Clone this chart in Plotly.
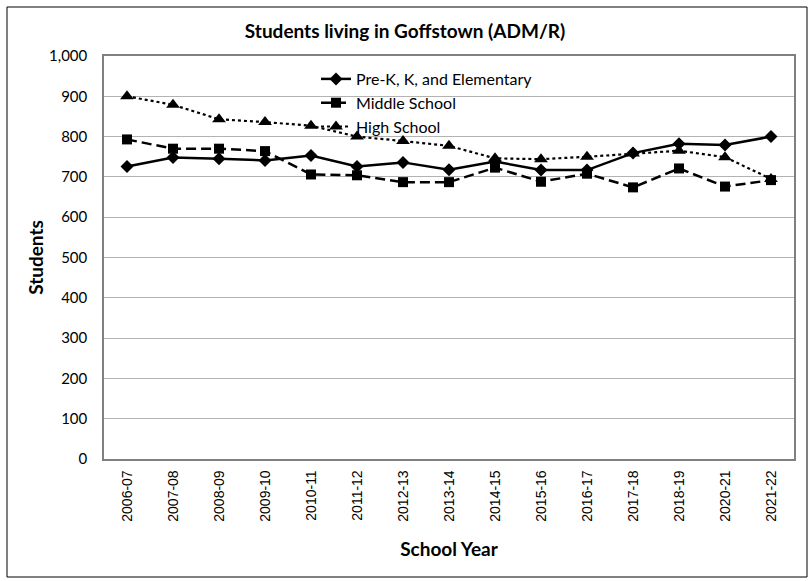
import plotly.graph_objects as go

years = ["2006-07", "2007-08", "2008-09", "2009-10", "2010-11", "2011-12", "2012-13",
         "2013-14", "2014-15", "2015-16", "2016-17", "2017-18", "2018-19", "2020-21", "2021-22"]
elementary = [726, 748, 745, 741, 753, 726, 736, 718, 738, 717, 717, 759, 782, 779, 800]
middle = [793, 770, 770, 764, 706, 704, 687, 687, 723, 688, 708, 674, 721, 676, 692]
high = [900, 879, 843, 836, 827, 800, 789, 777, 746, 744, 750, 758, 765, 749, 695]
y_ticks = [0, 100, 200, 300, 400, 500, 600, 700, 800, 900, 1000]

W, H = 810, 581
L, R, T, B = 104, 794, 56, 459

fig = go.Figure()
fig.add_trace(go.Scatter(x=years, y=elementary, name="Pre-K, K, and Elementary", mode="lines+markers",
                         line=dict(color="black", width=2.5), legendgroup="a",
                         marker=dict(symbol="diamond", size=10, color="black")))
fig.add_trace(go.Scatter(x=years, y=middle, name="Middle School", mode="lines+markers",
                         line=dict(color="black", width=2.5, dash="10px,5px"), legendgroup="b",
                         marker=dict(symbol="square", size=10, color="black")))
fig.add_trace(go.Scatter(x=years, y=high, name="High School", mode="lines+markers",
                         line=dict(color="black", width=2.2, dash="dot"), legendgroup="c",
                         marker=dict(symbol="triangle-up", size=12, color="black")))

px = lambda x: (x - L) / (R - L)
py = lambda y: (B - y) / (B - T)

fig.update_layout(
    width=W, height=H,
    margin=dict(l=L, r=W - R, t=T, b=H - B, autoexpand=False),
    paper_bgcolor="white", plot_bgcolor="white",
    title=dict(text="<b>Students living in Goffstown (ADM/R)</b>", x=0.5, xref="container",
               xanchor="center", y=1 - 31 / H, yanchor="middle",
               font=dict(family="Lato", size=19, color="black")),
    font=dict(family="Lato", color="black"),
    showlegend=True,
    legend=dict(x=px(316), y=py(62), xanchor="left", yanchor="top", bgcolor="rgba(0,0,0,0)",
                font=dict(family="Lato", size=16, color="black"), tracegroupgap=0,
                itemwidth=30),
    xaxis=dict(type="category", range=[-0.5, 14.5], tickangle=-90, showgrid=False,
               showline=True, linecolor="#808080", linewidth=1.5, mirror=True, ticks="",
               automargin=False, ticklabelstandoff=4,
               tickfont=dict(family="Liberation Sans", size=14, color="black"),
               title=dict(text="<b>School Year</b>", font=dict(family="Lato", size=19, color="black"),
                          standoff=22)),
    yaxis=dict(range=[0, 1000], tickvals=y_ticks, tickformat=",", showgrid=True,
               gridcolor="#b3b3b3", gridwidth=1, showline=True, linecolor="#808080",
               linewidth=1.5, mirror=True, ticks="", zeroline=False,
               automargin=False, ticklabelstandoff=12,
               tickfont=dict(family="Lato", size=15, color="black"),
               title=dict(text="<b>Students</b>", font=dict(family="Lato", size=19, color="black"),
                          standoff=0)),
    shapes=[dict(type="rect", xref="paper", yref="paper",
                 x0=px(7), x1=px(807), y0=py(577), y1=py(7),
                 line=dict(color="black", width=1), fillcolor="rgba(0,0,0,0)", layer="below")],
)

fig.write_html("out.html", config={"displayModeBar": False},
               post_script="document.body.style.margin='0';")
